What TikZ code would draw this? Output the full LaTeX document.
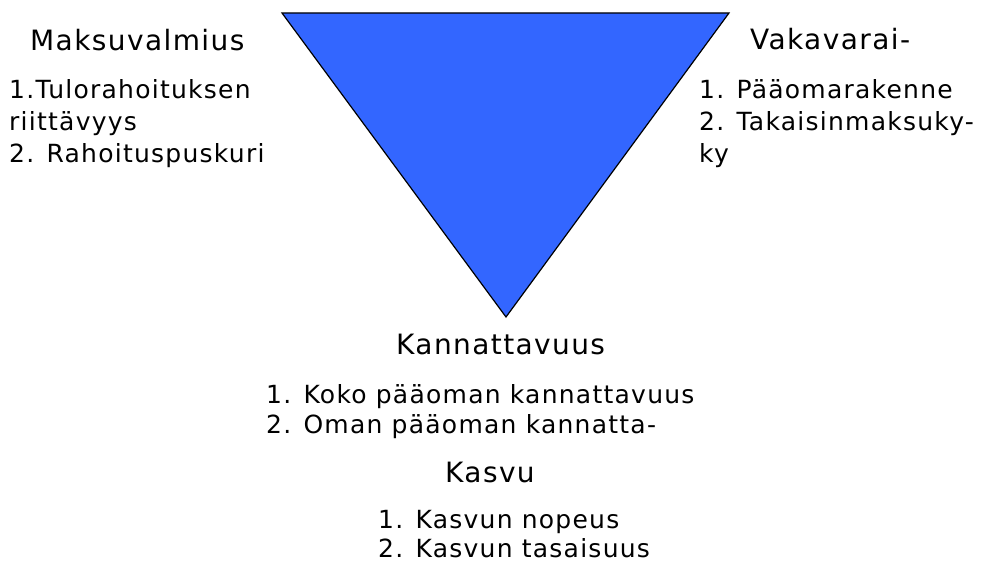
\documentclass[tikz,border=0pt]{standalone}
\usepackage{fontspec}
\newfontfamily\lblfont[LetterSpace=5]{DejaVu Sans}
\definecolor{triblue}{HTML}{3366FF}
\tikzset{
  head/.style={anchor=base west, inner sep=0pt, font=\lblfont\fontsize{28}{32}\selectfont},
  item/.style={anchor=base west, inner sep=0pt, font=\lblfont\fontsize{25}{30}\selectfont},
  tri/.style={fill=triblue, draw=black, line width=1.2pt, line join=miter}
}
\begin{document}
\begin{tikzpicture}[x=1pt,y=-1pt]
\useasboundingbox (0,0) rectangle (989,564);
% triangle
\coordinate (tl) at (282,13);
\coordinate (tr) at (729,13);
\coordinate (bt) at (506,317);
\draw[tri] (tl) -- (tr) -- (bt) -- cycle;
% left group
\node[head] (maksu) at (30,51) {Maksuvalmius};
\node[item] (m1) at (9,99) {1.Tulorahoituksen};
\node[item] (m1b) at (9,131) {riittävyys};
\node[item] (m2) at (9,163) {2. Rahoituspuskuri};
% right group
\node[head] (vaka) at (750,50) {Vakavarai-};
\node[item] (v1) at (699,99) {1. Pääomarakenne};
\node[item] (v2) at (699,131) {2. Takaisinmaksuky-};
\node[item] (v2b) at (699,163) {ky};
% bottom group
\node[head] (kann) at (396,355) {Kannattavuus};
\node[item] (k1) at (266,403) {1. Koko pääoman kannattavuus};
\node[item] (k2) at (266,433) {2. Oman pääoman kannatta-};
\node[head] (kasvu) at (445,482) {Kasvu};
\node[item] (ka1) at (378,528) {1. Kasvun nopeus};
\node[item] (ka2) at (378,557) {2. Kasvun tasaisuus};
\end{tikzpicture}
\end{document}
